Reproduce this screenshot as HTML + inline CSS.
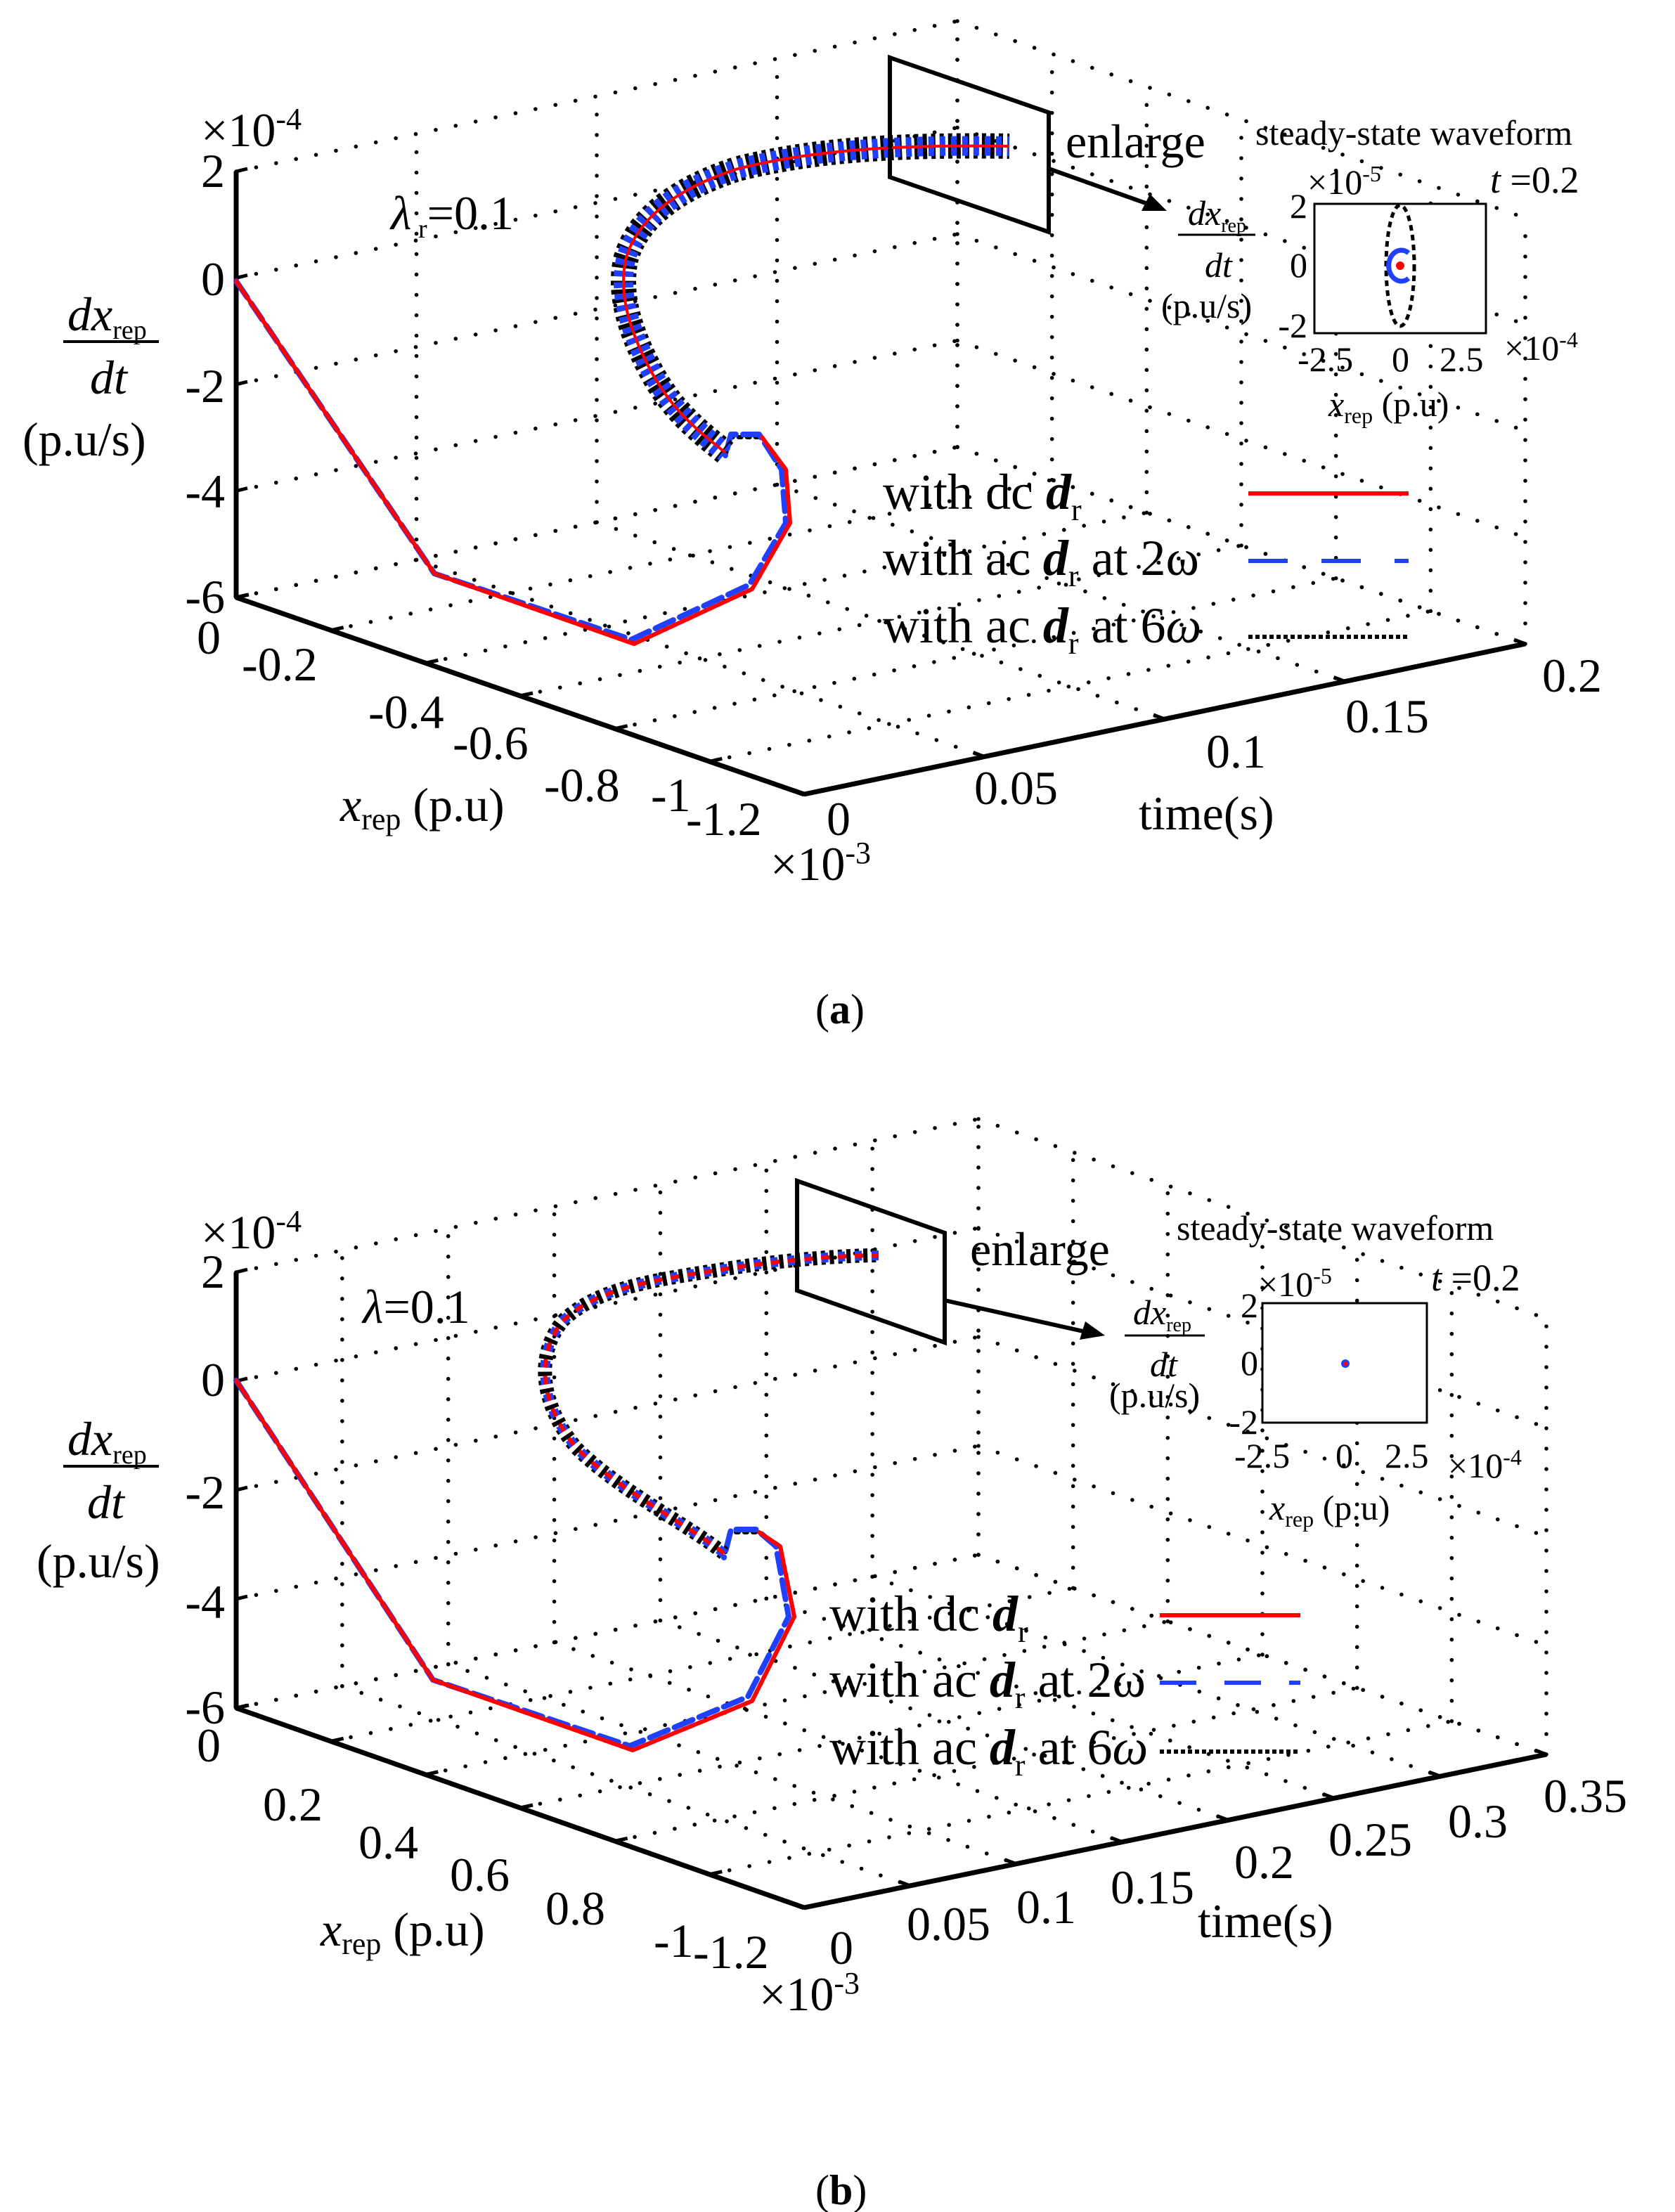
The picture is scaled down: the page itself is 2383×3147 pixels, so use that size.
<!DOCTYPE html>
<html><head><meta charset="utf-8"><style>
html,body{margin:0;padding:0;background:#fff;}
svg{display:block;}
text{font-family:"Liberation Serif",serif;fill:#000;}
</style></head><body>
<svg id="s" width="2383" height="3147" viewBox="0 0 1191.5 1573.5" xmlns="http://www.w3.org/2000/svg">
<rect width="1191.5" height="1573.5" fill="#fff"/>
<g id="ga"></g><g id="gb"></g>

<g fill="none" stroke-linejoin="round" stroke-linecap="round">
<polyline points="168,200 309,408 451,458 535,419 562,372 559,334 542,311 520,311 516,324" stroke="#000" stroke-width="3" stroke-dasharray="2 4"/>
<polyline points="168,200 309,408 449,455 533,416 559,372 556,334 540,309 520,309 516,324" stroke="#2040ff" stroke-width="4" stroke-dasharray="14 5"/>
<polyline points="168,200 309,408 451,458 535,419 562,372 559,334 542,311" stroke="#f00" stroke-width="3"/>
</g>
<g fill="none" stroke-linejoin="round" stroke-linecap="butt">
<path d="M516,322 C495,305 478,292 462,262 C448,235 440,210 445,185 C452,158 478,135 525,120 C585,105 650,103 718,104" stroke="#000" stroke-width="18" stroke-dasharray="3 3"/>
<path d="M516,322 C495,305 478,292 462,262 C448,235 440,210 445,185 C452,158 478,135 525,120 C585,105 650,103 718,104" stroke="#2040ff" stroke-width="14" stroke-dasharray="4 4" stroke-dashoffset="2"/>
<path d="M516,322 C495,305 478,292 462,262 C448,235 440,210 445,185 C452,158 478,135 525,120 C585,105 650,103 718,104" stroke="#f00" stroke-width="2"/>
</g>
<g fill="none" stroke-linejoin="round" stroke-linecap="round">
<polyline points="168,982 308,1195 450,1245 535,1210 565,1150 555,1100 540,1090 520,1090 515,1108" stroke="#000" stroke-width="3" stroke-dasharray="2 4"/>
<polyline points="168,982 308,1195 448,1242 532,1207 561,1150 552,1100 538,1088 520,1088 515,1108" stroke="#2040ff" stroke-width="4" stroke-dasharray="14 5"/>
<polyline points="168,982 308,1195 450,1245 535,1210 565,1150 555,1100 540,1090" stroke="#f00" stroke-width="3"/>
</g>
<g fill="none" stroke-linejoin="round" stroke-linecap="butt">
<path d="M515,1105 C490,1085 440,1060 410,1030 C385,1000 380,965 400,940 C425,915 470,910 520,902 C560,896 600,893 625,893" stroke="#000" stroke-width="10" stroke-dasharray="3 3"/>
<path d="M515,1105 C490,1085 440,1060 410,1030 C385,1000 380,965 400,940 C425,915 470,910 520,902 C560,896 600,893 625,893" stroke="#2040ff" stroke-width="7" stroke-dasharray="5 7"/>
<path d="M515,1105 C490,1085 440,1060 410,1030 C385,1000 380,965 400,940 C425,915 470,910 520,902 C560,896 600,893 625,893" stroke="#f00" stroke-width="3" stroke-dasharray="6 6"/>
</g>

<g fill="none" stroke="#000" stroke-width="3">
<polygon points="633,41 746,80 746,165 633,126"/>
<line x1="746" y1="120" x2="822" y2="147"/>
<polygon points="567,840 672,877 672,955 567,918"/>
<line x1="672" y1="925" x2="775" y2="948"/>
</g>
<polygon points="830,150 812,150 818,138" fill="#000"/>
<polygon points="786,950 768,953 772,940" fill="#000"/>

<g fill="none" stroke="#000" stroke-width="1.5">
<rect x="935" y="145" width="122" height="92" fill="#fff"/>
<rect x="898" y="927" width="117" height="85" fill="#fff"/>
</g>
<ellipse cx="996" cy="189" rx="10" ry="43" fill="none" stroke="#000" stroke-width="2.5" stroke-dasharray="4 3"/>
<path d="M1002,180 A9,11 0 1 0 1002,198" fill="none" stroke="#2040ff" stroke-width="3.5"/>
<circle cx="996" cy="189" r="3" fill="#f00"/>
<circle cx="957" cy="970" r="3" fill="#2040ff"/>
<circle cx="957" cy="970" r="1.5" fill="#f00"/>

<g font-size="36">
<text x="628" y="362">with dc <tspan font-weight="bold" font-style="italic">d</tspan><tspan font-size="22" dy="8">r</tspan></text>
<text x="628" y="409">with ac <tspan font-weight="bold" font-style="italic">d</tspan><tspan font-size="22" dy="8">r</tspan><tspan dy="-8"> at 2ω</tspan></text>
<text x="628" y="457">with ac <tspan font-weight="bold" font-style="italic">d</tspan><tspan font-size="22" dy="8">r</tspan><tspan dy="-8"> at 6</tspan><tspan font-style="italic">ω</tspan></text>
<text x="590" y="1160">with dc <tspan font-weight="bold" font-style="italic">d</tspan><tspan font-size="22" dy="8">r</tspan></text>
<text x="590" y="1207">with ac <tspan font-weight="bold" font-style="italic">d</tspan><tspan font-size="22" dy="8">r</tspan><tspan dy="-8"> at 2ω</tspan></text>
<text x="590" y="1255">with ac <tspan font-weight="bold" font-style="italic">d</tspan><tspan font-size="22" dy="8">r</tspan><tspan dy="-8"> at 6</tspan><tspan font-style="italic">ω</tspan></text>
</g>
<g stroke-width="3">
<line x1="888" y1="351" x2="1002" y2="351" stroke="#f00"/>
<line x1="888" y1="399" x2="1002" y2="399" stroke="#2040ff" stroke-dasharray="28 24"/>
<line x1="888" y1="453" x2="1002" y2="453" stroke="#000" stroke-dasharray="3 2"/>
<line x1="825" y1="1149" x2="925" y2="1149" stroke="#f00"/>
<line x1="825" y1="1197" x2="925" y2="1197" stroke="#2040ff" stroke-dasharray="26 20"/>
<line x1="825" y1="1246" x2="925" y2="1246" stroke="#000" stroke-dasharray="3 2"/>
</g>

<g font-size="34">
<text x="143" y="104">×10<tspan font-size="22" dy="-12">-4</tspan></text>
<text x="160" y="133" text-anchor="end">2</text>
<text x="160" y="210" text-anchor="end">0</text>
<text x="160" y="286" text-anchor="end">-2</text>
<text x="160" y="361" text-anchor="end">-4</text>
<text x="160" y="436" text-anchor="end">-6</text>
<text x="48" y="235" font-style="italic">dx<tspan font-style="normal" font-size="19" dy="6">rep</tspan></text>
<line x1="45" y1="243" x2="113" y2="243" stroke="#000" stroke-width="2"/>
<text x="64" y="280" font-style="italic">dt</text>
<text x="16" y="324">(p.u/s)</text>
<text x="278" y="163"><tspan font-style="italic">λ</tspan><tspan font-size="19" dy="6"> r</tspan><tspan dy="-6">=0.1</tspan></text>
<text x="140" y="465">0</text>
<text x="172" y="484">-0.2</text>
<text x="262" y="518">-0.4</text>
<text x="322" y="540">-0.6</text>
<text x="387" y="570">-0.8</text>
<text x="463" y="577">-1</text>
<text x="488" y="594">-1.2</text>
<text x="242" y="584"><tspan font-style="italic">x</tspan><tspan font-size="22" dy="6">rep</tspan><tspan dy="-6"> (p.u)</tspan></text>
<text x="588" y="594">0</text>
<text x="693" y="572">0.05</text>
<text x="858" y="546">0.1</text>
<text x="957" y="521">0.15</text>
<text x="1097" y="492">0.2</text>
<text x="810" y="590">time(s)</text>
<text x="548" y="626">×10<tspan font-size="22" dy="-12">-3</tspan></text>
<text x="580" y="728" font-family="Liberation Sans" font-size="30">(<tspan font-weight="bold">a</tspan>)</text>
<text x="758" y="112">enlarge</text>
</g>
<g font-size="25">
<text x="893" y="103">steady-state waveform</text>
<text x="1060" y="137" font-size="27"><tspan font-style="italic">t</tspan> =0.2</text>
<text x="930" y="138">×10<tspan font-size="16" dy="-9">-5</tspan></text>
<text x="930" y="155" text-anchor="end">2</text>
<text x="930" y="197" text-anchor="end">0</text>
<text x="930" y="240" text-anchor="end">-2</text>
<text x="923" y="264">-2.5</text>
<text x="990" y="264">0</text>
<text x="1024" y="264">2.5</text>
<text x="1070" y="256">×10<tspan font-size="16" dy="-9">-4</tspan></text>
<text x="945" y="296"><tspan font-style="italic">x</tspan><tspan font-size="16" dy="5">rep</tspan><tspan dy="-5"> (p.u)</tspan></text>
<text x="845" y="160" font-style="italic">dx<tspan font-style="normal" font-size="14" dy="5">rep</tspan></text>
<line x1="838" y1="167" x2="893" y2="167" stroke="#000" stroke-width="1.5"/>
<text x="857" y="197" font-style="italic">dt</text>
<text x="826" y="226">(p.u/s)</text>
</g>

<g font-size="34">
<text x="143" y="888">×10<tspan font-size="22" dy="-12">-4</tspan></text>
<text x="160" y="916" text-anchor="end">2</text>
<text x="160" y="993" text-anchor="end">0</text>
<text x="160" y="1073" text-anchor="end">-2</text>
<text x="160" y="1151" text-anchor="end">-4</text>
<text x="160" y="1226" text-anchor="end">-6</text>
<text x="48" y="1035" font-style="italic">dx<tspan font-style="normal" font-size="19" dy="6">rep</tspan></text>
<line x1="45" y1="1043" x2="113" y2="1043" stroke="#000" stroke-width="2"/>
<text x="62" y="1080" font-style="italic">dt</text>
<text x="26" y="1122">(p.u/s)</text>
<text x="258" y="941"><tspan font-style="italic">λ</tspan>=0.1</text>
<text x="140" y="1253">0</text>
<text x="187" y="1295">0.2</text>
<text x="255" y="1322">0.4</text>
<text x="320" y="1345">0.6</text>
<text x="388" y="1369">0.8</text>
<text x="465" y="1392">-1</text>
<text x="493" y="1400">-1.2</text>
<text x="228" y="1384"><tspan font-style="italic">x</tspan><tspan font-size="22" dy="6">rep</tspan><tspan dy="-6"> (p.u)</tspan></text>
<text x="590" y="1397">0</text>
<text x="645" y="1380">0.05</text>
<text x="723" y="1368">0.1</text>
<text x="790" y="1354">0.15</text>
<text x="878" y="1336">0.2</text>
<text x="945" y="1320">0.25</text>
<text x="1030" y="1307">0.3</text>
<text x="1098" y="1289">0.35</text>
<text x="852" y="1378">time(s)</text>
<text x="540" y="1430">×10<tspan font-size="22" dy="-12">-3</tspan></text>
<text x="580" y="1568" font-family="Liberation Sans" font-size="30">(<tspan font-weight="bold">b</tspan>)</text>
<text x="690" y="900">enlarge</text>
</g>
<g font-size="25">
<text x="837" y="882">steady-state waveform</text>
<text x="1018" y="918" font-size="27"><tspan font-style="italic">t</tspan> =0.2</text>
<text x="895" y="922">×10<tspan font-size="16" dy="-9">-5</tspan></text>
<text x="895" y="937" text-anchor="end">2</text>
<text x="895" y="978" text-anchor="end">0</text>
<text x="895" y="1020" text-anchor="end">-2</text>
<text x="878" y="1044">-2.5</text>
<text x="950" y="1044">0</text>
<text x="985" y="1044">2.5</text>
<text x="1030" y="1051">×10<tspan font-size="16" dy="-9">-4</tspan></text>
<text x="903" y="1081"><tspan font-style="italic">x</tspan><tspan font-size="16" dy="5">rep</tspan><tspan dy="-5"> (p.u)</tspan></text>
<text x="806" y="942" font-style="italic">dx<tspan font-style="normal" font-size="14" dy="5">rep</tspan></text>
<line x1="800" y1="950" x2="857" y2="950" stroke="#000" stroke-width="1.5"/>
<text x="818" y="979" font-style="italic">dt</text>
<text x="789" y="1001">(p.u/s)</text>
</g>

<script>
function build(gid, O, X, T, zTopY, tmax, tticks, xticks){
  var g=document.getElementById(gid), ns="http://www.w3.org/2000/svg";
  var zH=O[1]-zTopY;
  function P(x,t,z){var fx=x/-1.2, ft=t/tmax, fz=(z+6)/8;
    return [O[0]+fx*(X[0]-O[0])+ft*(T[0]-X[0]), O[1]+fx*(X[1]-O[1])+ft*(T[1]-X[1])-fz*zH];}
  function L(a,b,dot,w){var l=document.createElementNS(ns,"line");
    l.setAttribute("x1",a[0]);l.setAttribute("y1",a[1]);l.setAttribute("x2",b[0]);l.setAttribute("y2",b[1]);
    l.setAttribute("stroke","#000");
    if(dot){l.setAttribute("stroke-width","2.8");l.setAttribute("stroke-linecap","round");l.setAttribute("stroke-dasharray","0 14.5");}
    else{l.setAttribute("stroke-width",w||3);}
    g.appendChild(l);}
  var zt=[-6,-4,-2,0,2];
  zt.forEach(function(z){L(P(0,0,z),P(0,tmax,z),1);L(P(0,tmax,z),P(-1.2,tmax,z),1);});
  tticks.forEach(function(t){L(P(0,t,-6),P(0,t,2),1);L(P(0,t,-6),P(-1.2,t,-6),1);});
  xticks.forEach(function(x){L(P(x,tmax,-6),P(x,tmax,2),1);L(P(x,0,-6),P(x,tmax,-6),1);});
  L(P(0,0,-6),P(0,0,2),0,3.5);
  L(P(0,0,-6),P(-1.2,0,-6),0,3.5);
  L(P(-1.2,0,-6),P(-1.2,tmax,-6),0,3.5);
  xticks.forEach(function(x){var a=P(x,0,-6);L(a,[a[0]+9,a[1]-2],0,2.5);});
  tticks.forEach(function(t){var a=P(-1.2,t,-6);L(a,[a[0]-8,a[1]-3],0,2.5);});
  zt.forEach(function(z){var a=P(0,0,z);L(a,[a[0]+8,a[1]-2],0,2.5);});
}
build("ga",[168,425],[572,565],[1085,458],122,0.2,[0,0.05,0.1,0.15,0.2],[0,-0.2,-0.4,-0.6,-0.8,-1,-1.2]);
build("gb",[168,1215],[572,1357],[1100,1248],905,0.35,[0,0.05,0.1,0.15,0.2,0.25,0.3,0.35],[0,-0.2,-0.4,-0.6,-0.8,-1,-1.2]);
</script>
</svg>
</body></html>
